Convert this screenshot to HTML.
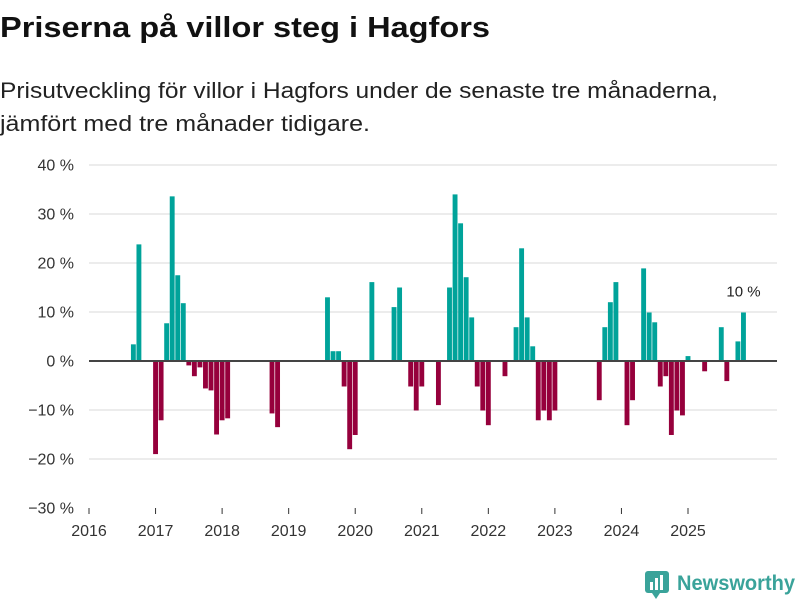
<!DOCTYPE html>
<html><head><meta charset="utf-8"><style>
body{margin:0;background:#fff;}
svg{display:block;font-family:"Liberation Sans",sans-serif;}
</style></head><body>
<svg width="800" height="600" viewBox="0 0 800 600">
<text x="0" y="37" font-size="29" font-weight="bold" fill="#111" textLength="490" lengthAdjust="spacingAndGlyphs">Priserna på villor steg i Hagfors</text>
<text x="0" y="98" font-size="22" fill="#222" textLength="718" lengthAdjust="spacingAndGlyphs">Prisutveckling för villor i Hagfors under de senaste tre månaderna,</text>
<text x="0" y="131" font-size="22" fill="#222" textLength="370" lengthAdjust="spacingAndGlyphs">jämfört med tre månader tidigare.</text>
<g id="grid"></g>
<g id="bars"></g>
<g id="axes"></g>
<g>
<rect x="645" y="571" width="24" height="22" rx="3" fill="#3aa39a"/>
<rect x="650" y="582" width="3" height="8" fill="#fff"/><rect x="655" y="578" width="3" height="12" fill="#fff"/><rect x="660" y="575" width="3" height="15" fill="#fff"/>
<polygon points="652,593 660,593 656,599" fill="#3aa39a"/>
<text x="677" y="590" font-size="21" font-weight="bold" fill="#3aa39a" textLength="118" lengthAdjust="spacingAndGlyphs">Newsworthy</text>
</g>
</svg>
<script>
const months=[8,9,12,13,14,15,16,17,18,19,20,21,22,23,24,25,33,34,43,44,45,46,47,48,51,55,56,58,59,60,63,65,66,67,68,69,70,71,72,75,77,78,79,80,81,82,83,84,92,93,94,95,97,98,100,101,102,103,104,105,106,107,108,111,114,115,117,118];
const values=[3.4,23.8,-19,-12.1,7.7,33.6,17.5,11.8,-0.9,-3.1,-1.3,-5.6,-6,-15,-12.1,-11.7,-10.7,-13.5,13,2,2,-5.2,-18,-15.1,16.1,11,15,-5.2,-10.1,-5.2,-9,15,34,28.1,17.1,8.9,-5.2,-10.1,-13.1,-3.1,6.9,23,8.9,3,-12.1,-10.1,-12.1,-10.1,-8,6.9,12,16.1,-13.1,-8,18.9,9.9,7.9,-5.2,-3.1,-15.1,-10.1,-11.1,1,-2.1,6.9,-4.1,4,9.9];
const yTicks=[40,30,20,10,0,-10,-20,-30];
const yTickLabels=["40 %","30 %","20 %","10 %","0 %","−10 %","−20 %","−30 %"];
const xTickLabels=["2016","2017","2018","2019","2020","2021","2022","2023","2024","2025"];
const lastLabel="10 %";
const NS="http://www.w3.org/2000/svg";
const x0=89,x1=777,mw=(688-89)/108;
const xs=m=>x0+m*mw;
const ys=v=>361-v*4.9;
function mk(t,a,p){const e=document.createElementNS(NS,t);for(const k in a)e.setAttribute(k,a[k]);p.appendChild(e);return e;}
const grid=document.getElementById('grid'),bars=document.getElementById('bars'),axes=document.getElementById('axes');
yTicks.forEach((v,i)=>{
 if(v!==0&&v!==-30){const l=mk('line',{x1:x0,x2:x1,y1:ys(v),y2:ys(v),stroke:'#e0e0e0','stroke-width':1.3},grid);
 
 }
 const t=mk('text',{x:74,y:ys(v)+5.5,'font-size':16,'text-anchor':'end',fill:'#333'},axes);
 t.textContent=yTickLabels[i];
 
 
});
const bw=mw*0.88;
months.forEach((m,i)=>{
 const v=values[i];
 const r=mk('rect',{x:xs(m)-bw/2,y:v>=0?ys(v):ys(0),width:bw,height:Math.abs(ys(v)-ys(0)),fill:v>=0?'#00a39a':'#96003c'},bars);
 
 
});
const z=mk('line',{x1:x0,x2:x1,y1:ys(0),y2:ys(0),stroke:'#444','stroke-width':2},axes);


xTickLabels.forEach((lab,i)=>{
 const x=xs(i*12);
 const tk=mk('line',{x1:x,x2:x,y1:508,y2:514,stroke:'#333','stroke-width':1},axes);
 
 
 const t=mk('text',{x:x,y:536,'font-size':16,'text-anchor':'middle',fill:'#333'},axes);
 t.textContent=lab;
 
 
});
const li=months.length-1;
const ann=mk('text',{x:xs(months[li])+0,y:ys(values[li])-16,'font-size':15,'text-anchor':'middle',fill:'#222'},axes);
ann.textContent=lastLabel;


</script>
</body></html>
